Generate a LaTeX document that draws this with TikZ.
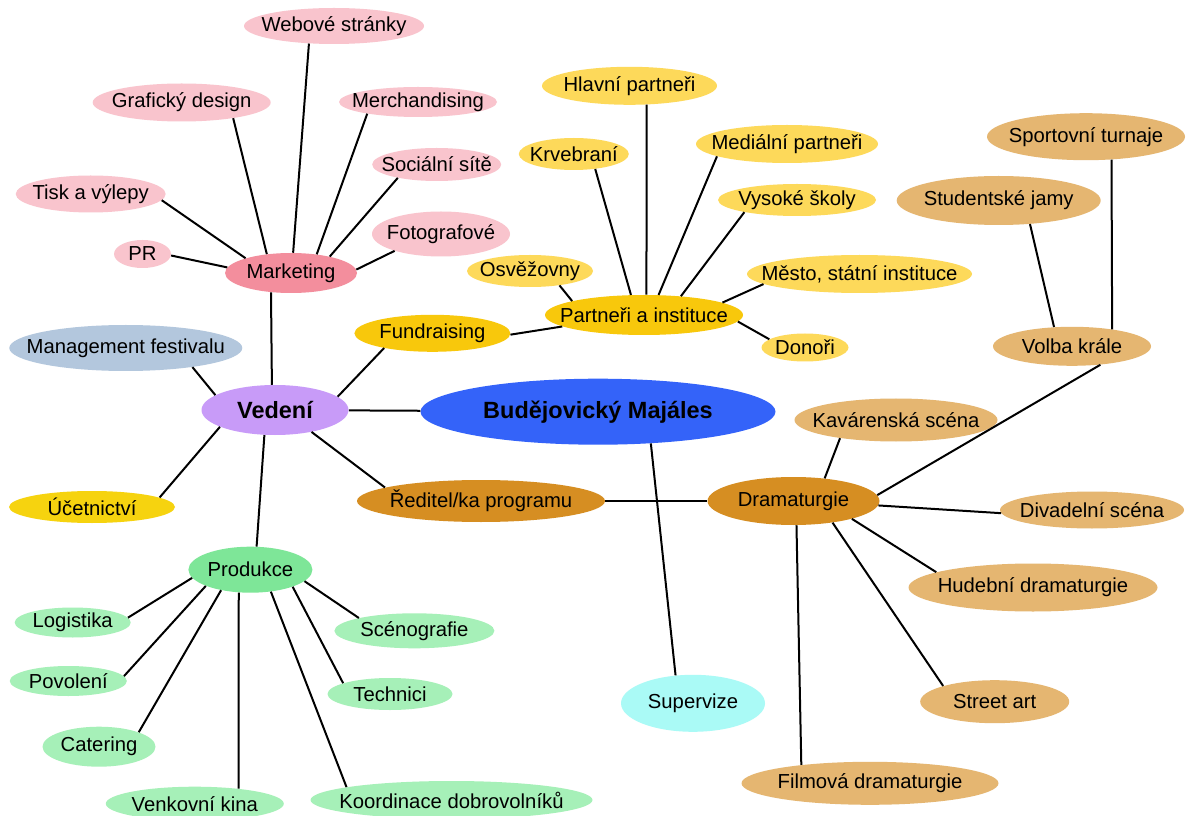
\documentclass[tikz,border=0pt]{standalone}
\usepackage{fontspec}
\setmainfont{Liberation Sans}
\usetikzlibrary{
  shapes.geometric,
  backgrounds,
}
\definecolor{cMain}    {HTML}{3463F9}
\definecolor{cLead}    {HTML}{C89BF8}
\definecolor{cMgmt}    {HTML}{B3C7DD}
\definecolor{cAcct}    {HTML}{F6D30F}
\definecolor{cMktHub}  {HTML}{F38E9D}
\definecolor{cMkt}     {HTML}{F9C4CD}
\definecolor{cPartHub} {HTML}{F8C80C}
\definecolor{cPart}    {HTML}{FDD95A}
\definecolor{cProgHub} {HTML}{D68E22}
\definecolor{cProg}    {HTML}{E5B671}
\definecolor{cProdHub} {HTML}{7EE698}
\definecolor{cProd}    {HTML}{A6F0B8}
\definecolor{cSuper}   {HTML}{AAFAF6}

\begin{document}
\begin{tikzpicture}[
  x=0.75pt, y=-0.75pt,
  font=\fontsize{15.2}{18}\selectfont,
  every node/.style={text=black},
  %
  bubble/.style={
    ellipse, fill=#1, draw=none, inner sep=0pt,
    execute at begin node={\hbox to 0pt\bgroup\hss},
    execute at end node={\hss\egroup},
  },
  dims/.style 2 args={minimum width=#1*0.75pt, minimum height=#2*0.75pt},
  hub/.style={font=\fontsize{17.6}{20}\selectfont\bfseries},
  link/.style={line width=1.5pt, draw=black},
]

% ────────────── CANVAS ─────────────────────────────────────────────────────
\fill[white] (0,0) rectangle (1192,816);
\useasboundingbox (0,0) rectangle (1192,816);

% ────────────── CENTRE ─────────────────────────────────────────────────────
\node[bubble=cMain, dims={355}{66}, hub]  (main)  at (598,411.7) {Budějovický Majáles};
\node[bubble=cLead, dims={147}{50}, hub]  (ved)   at (275,410)   {Vedení};
\node[bubble=cMgmt, dims={233}{46}]       (mgmt)  at (125.8,348) {Management festivalu};
\node[bubble=cAcct, dims={166}{32}]       (ucet)  at (92,507)    {Účetnictví};
\node[bubble=cSuper, dims={144}{57}]      (super) at (693,703.3) {Supervize};

% ────────────── MARKETING (pink) ───────────────────────────────────────────
\node[bubble=cMktHub, dims={132}{40}] (mkt)   at (291,273)     {Marketing};
\node[bubble=cMkt, dims={180}{36}]    (web)   at (334,26)      {Webové stránky};
\node[bubble=cMkt, dims={178}{38}]    (graf)  at (181.7,102.5) {Grafický design};
\node[bubble=cMkt, dims={158}{30}]    (merch) at (418,102)     {Merchandising};
\node[bubble=cMkt, dims={129}{33}]    (soc)   at (436.7,164.5) {Sociální sítě};
\node[bubble=cMkt, dims={150}{37}]    (tisk)  at (90.7,194)    {Tisk a výlepy};
\node[bubble=cMkt, dims={57}{28}]     (pr)    at (142.5,254)   {PR};
\node[bubble=cMkt, dims={138}{45}]    (foto)  at (441,234)     {Fotografové};

% ────────────── PARTNERS (yellow) ──────────────────────────────────────────
\node[bubble=cPartHub, dims={156}{37}] (fund)  at (432.4,333.3) {Fundraising};
\node[bubble=cPartHub, dims={198}{40}] (partn) at (644,315)     {Partneři a instituce};
\node[bubble=cPart, dims={175}{38}]    (hlav)  at (629.5,85.8)  {Hlavní partneři};
\node[bubble=cPart, dims={110}{32}]    (krev)  at (573.8,154)   {Krvebraní};
\node[bubble=cPart, dims={182}{38}]    (med)   at (787,144)     {Mediální partneři};
\node[bubble=cPart, dims={158}{32}]    (vys)   at (797,200)     {Vysoké školy};
\node[bubble=cPart, dims={126}{32}]    (osv)   at (530,271)     {Osvěžovny};
\node[bubble=cPart, dims={225}{38}]    (mesto) at (859.5,274)   {Město, státní instituce};
\node[bubble=cPart, dims={87}{28}]     (don)   at (805,347.5)   {Donoři};

% ────────────── PROGRAMME (tan) ────────────────────────────────────────────
\node[bubble=cProgHub, dims={248}{42}] (red)    at (481,501)     {Ředitel/ka programu};
\node[bubble=cProgHub, dims={172}{48}] (dram)   at (793.5,501)   {Dramaturgie};
\node[bubble=cProg, dims={198}{47}]    (sport)  at (1086,136.7)  {Sportovní turnaje};
\node[bubble=cProg, dims={204}{49}]    (stud)   at (998.7,200.5) {Studentské jamy};
\node[bubble=cProg, dims={158}{39}]    (volba)  at (1072,346.3)  {Volba krále};
\node[bubble=cProg, dims={203}{43}]    (kav)    at (896,420)     {Kavárenská scéna};
\node[bubble=cProg, dims={184}{37}]    (div)    at (1092,510)    {Divadelní scéna};
\node[bubble=cProg, dims={249}{48}]    (hud)    at (1033,587.5)  {Hudební dramaturgie};
\node[bubble=cProg, dims={149}{43}]    (street) at (994.7,701.7) {Street art};
\node[bubble=cProg, dims={257}{43}]    (film)   at (870,783.3)   {Filmová dramaturgie};

% ────────────── PRODUCTION (green) ─────────────────────────────────────────
\node[bubble=cProdHub, dims={124}{46}] (prod)  at (250.4,569.7) {Produkce};
\node[bubble=cProd, dims={116}{30}]    (log)   at (72.7,622.5)  {Logistika};
\node[bubble=cProd, dims={160}{35}]    (sceno) at (414.4,630.8) {Scénografie};
\node[bubble=cProd, dims={117}{30}]    (pov)   at (68.3,681)    {Povolení};
\node[bubble=cProd, dims={125}{32}]    (tech)  at (390,694)     {Technici};
\node[bubble=cProd, dims={113}{40}]    (cat)   at (99,746.7)    {Catering};
\node[bubble=cProd, dims={178}{34}]    (venk)  at (194.8,803.7) {Venkovní kina};
\node[bubble=cProd, dims={282}{38}]    (koord) at (451.5,800)   {Koordinace dobrovolníků};

% ────────────── LINKS — centre ─────────────────────────────────────────────
\draw[link] (ved) -- (main);
\draw[link] (main.329) -- (super.122);
\draw[link] (ved.166) -- (mgmt.344);
\draw[link] (ved.197) -- (ucet.8);
\draw[link] (ved.97)  -- (mkt.224);
\draw[link] (ved.12)  -- (fund.197);
\draw[link] (ved.329) -- (red.172);
\draw[link] (ved.247) -- (prod.75);

% ────────────── LINKS — marketing ──────────────────────────────────────────
\draw[link] (mkt.84)  -- (web.215);
\draw[link] (mkt.142) -- (graf.343);
\draw[link] (mkt.36)  -- (merch.193);
\draw[link] (mkt.23)  -- (soc.199);
\draw[link] (mkt.162) -- (tisk.355);
\draw[link] (mkt.175) -- (pr.357);
\draw[link] (mkt.3)   -- (foto.200);

% ────────────── LINKS — partners ───────────────────────────────────────────
\draw[link] (fund.359)  -- (partn.188);
\draw[link] (partn.83)  -- (hlav.312);
\draw[link] (partn.123) -- (krev.325);
\draw[link] (partn.54)  -- (med.190);
\draw[link] (partn.27)  -- (vys.193);
\draw[link] (partn.169) -- (osv.334);
\draw[link] (partn.9)   -- (mesto.186);
\draw[link] (partn.356) -- (don.167);

% ────────────── LINKS — programme ──────────────────────────────────────────
\draw[link] (red) -- (dram);
\draw[link] (dram.4)    -- (volba.327);
\draw[link] (volba.23)  -- (sport.318);
\draw[link] (volba.133) -- (stud.323);
\draw[link] (dram.36)   -- (kav.198);
\draw[link] (dram.357)  -- (div.182);
\draw[link] (dram.343)  -- (hud.171);
\draw[link] (dram.331)  -- (street.163);
\draw[link] (dram.277)  -- (film.165);

% ────────────── LINKS — production ─────────────────────────────────────────
\draw[link] (prod.188) -- (log.5);
\draw[link] (prod.200) -- (pov.5);
\draw[link] (prod.215) -- (cat.20);
\draw[link] (prod.243) -- (venk.19);
\draw[link] (prod.313) -- (koord.173);
\draw[link] (prod.338) -- (tech.167);
\draw[link] (prod.348) -- (sceno.167);

\end{tikzpicture}
\end{document}
